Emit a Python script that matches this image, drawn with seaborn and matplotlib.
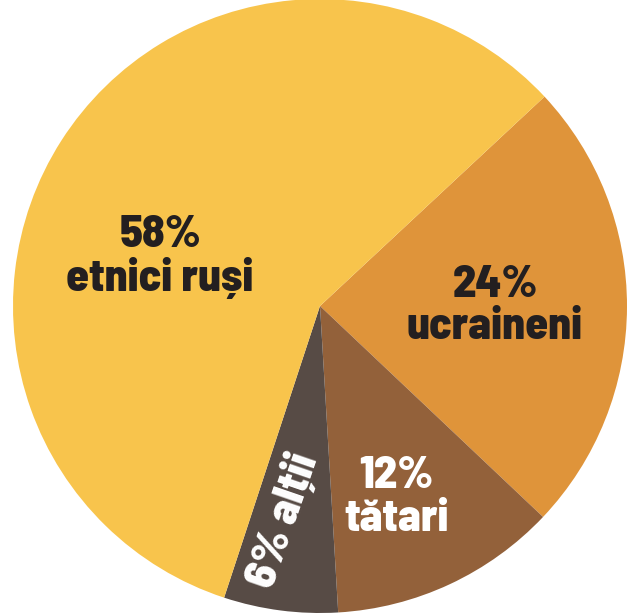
import matplotlib
matplotlib.use("Agg")
import matplotlib.pyplot as plt
import seaborn as sns

# data
labels = ["24%\nucraineni", "12%\ntătari", "6% alții", "58%\netnici ruși"]
shares = [24, 12, 6, 58]
colors = ["#DF943A", "#93613A", "#574B45", "#F8C44C"]
text_colors = ["#231F20", "white", "white", "#231F20"]

sns.set_style("white")
plt.rcParams['font.family'] = ['Barlow Semi Condensed', 'DejaVu Sans']

fig = plt.figure(figsize=(6.38, 6.14), dpi=100)
ax = fig.add_axes([13 / 638, 1 / 614, 614 / 638, 614 / 614])
wedges, _ = ax.pie(shares, colors=colors, startangle=43, counterclock=False,
                   wedgeprops=dict(linewidth=0))
ax.set_xlim(-1, 1)
ax.set_ylim(-1, 1)
ax.set_aspect('auto')
ax.axis('off')

# label positions (x, y, rotation)
pos = [(0.57, 0.0, 0), (0.248, -0.624, 0), (-0.12, -0.697, 71), (-0.521, 0.16, 0)]
for lab, tc, (x, y, r) in zip(labels, text_colors, pos):
    ax.text(x, y, lab, ha='center', va='center', color=tc, fontsize=33,
            fontweight=800, rotation=r, linespacing=1.08, multialignment='center')

fig.savefig("out.png", dpi=100)
